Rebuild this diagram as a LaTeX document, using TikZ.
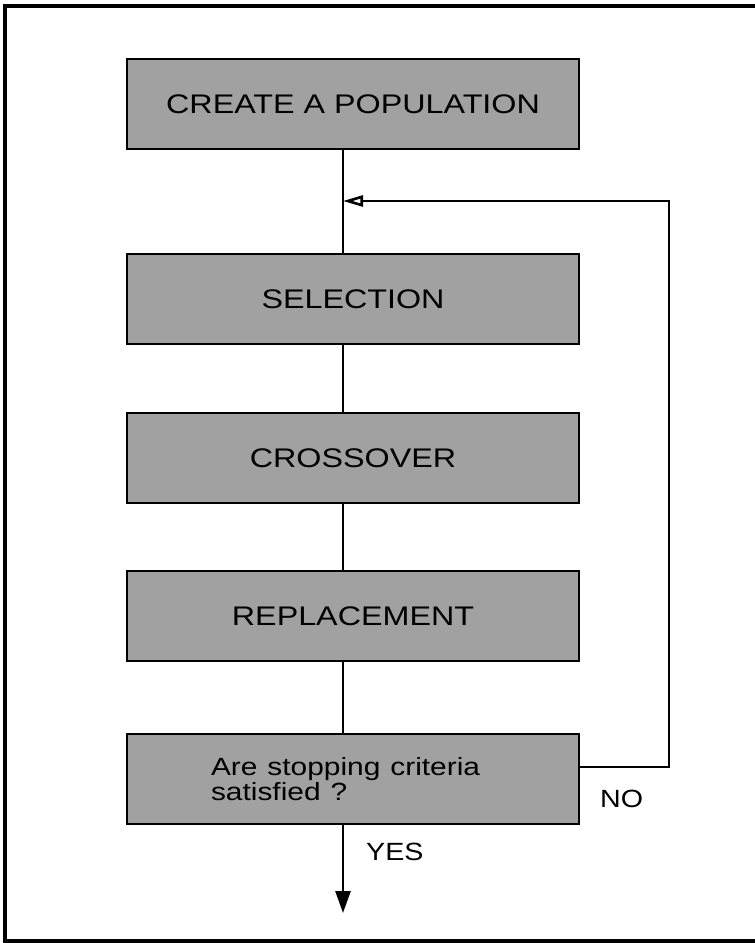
\documentclass[tikz,border=0pt]{standalone}
\usepackage{fontspec}
\setmainfont{Liberation Sans}
\usetikzlibrary{arrows.meta}
% slightly widened lettering
\newcommand{\widetext}[2][1.2]{\scalebox{#1}[1]{#2}}
\begin{document}
\begin{tikzpicture}[x=1bp,y=-1bp,
  stagebox/.style={draw=black, line width=2bp, fill=black!37,
    minimum width=452bp, minimum height=90bp, inner sep=0pt,
    font=\fontsize{27}{30}\selectfont, anchor=north west},
  flow/.style={line width=2.6bp},
  label/.style={font=\fontsize{25}{28}\selectfont, inner sep=0pt}]
  \useasboundingbox (0,0) rectangle (755,943);
  % frame (open on the right)
  \draw[line width=4bp] (760,6) -- (5,6) -- (5,941) -- (760,941);
  % spine of the flow chart
  \coordinate (spine) at (343,0);
  \node[stagebox] (create) at (126,58) {\widetext{CREATE A POPULATION}};
  \node[stagebox] (select) at (126,253) {\widetext{SELECTION}};
  \node[stagebox] (cross)  at (126,412) {\widetext{CROSSOVER}};
  \node[stagebox] (repl)   at (126,570) {\widetext{REPLACEMENT}};
  \node[stagebox, text width=284bp, align=left, inner xsep=84bp,
        font=\fontsize{25}{23}\selectfont] (stop) at (126,733)
        {\widetext{Are stopping criteria}\\\widetext{satisfied ?}};
  % connectors
  \coordinate (loopin) at (343,201);
  \coordinate (loopcorner) at (669,201);
  \coordinate (stopout) at (669,767);
  \coordinate (endpt) at (343,913);
  \draw[flow] (create.south -| spine) -- (select.north -| spine);
  \draw[flow] (select.south -| spine) -- (cross.north -| spine);
  \draw[flow] (cross.south -| spine) -- (repl.north -| spine);
  \draw[flow] (repl.south -| spine) -- (stop.north -| spine);
  \draw[flow, -{Triangle[open,length=20bp,width=11bp,line width=2.6bp]}]
    (stop.east |- stopout) -- (stopout) -- (loopcorner) -- (loopin);
  \draw[flow, -{Triangle[length=22bp,width=15bp]}]
    (stop.south -| spine) -- (endpt);
  % branch labels
  \node[label, anchor=west] (no) at (600,799) {\widetext[1.15]{NO}};
  \node[label, anchor=west] (yes) at (366,852) {\widetext[1.15]{YES}};
\end{tikzpicture}
\end{document}
